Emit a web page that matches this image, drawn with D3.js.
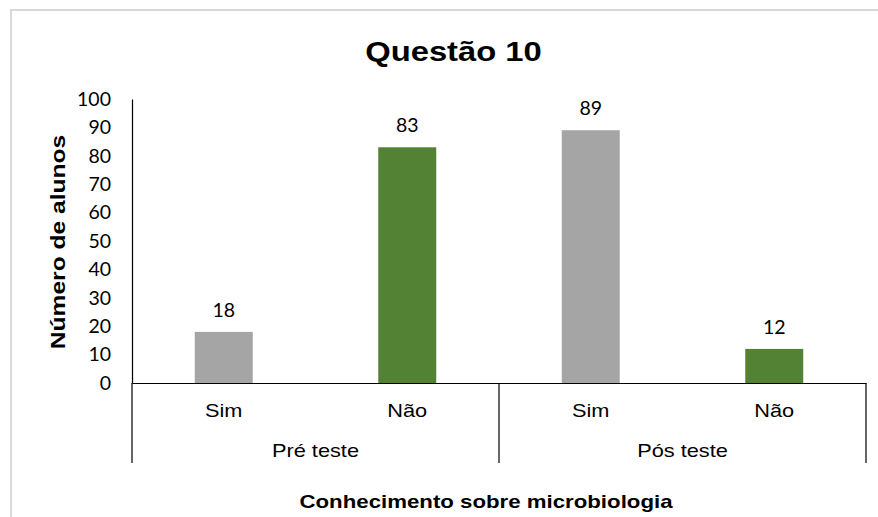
<!DOCTYPE html>
<html>
<head>
<meta charset="utf-8">
<script src="https://cdn.jsdelivr.net/npm/d3@7"></script>
<style>
  body { margin: 0; background: #fff; }
  text { fill: #000; }
</style>
</head>
<body>
<div id="chart"></div>
<script>
// data
var groups = ["Pré teste", "Pós teste"];
var answers = ["Sim", "Não"];
var values = [18, 83, 89, 12];
var yTicks = [0, 10, 20, 30, 40, 50, 60, 70, 80, 90, 100];
var barColors = ["#a5a5a5", "#548235"];

var width = 878, height = 517;
var margin = {top: 99, right: 12, bottom: 134, left: 132};
var wide = 1.17; // the reference text is drawn a bit wider than Arial

var sans = "'Liberation Sans', Arial, sans-serif";
var digits = "Lato, 'Open Sans', sans-serif";

// stretch text horizontally to match the wider look
function stretch(sel, k) {
  sel.each(function() {
    var w = this.getComputedTextLength();
    d3.select(this)
      .attr("textLength", w * k)
      .attr("lengthAdjust", "spacingAndGlyphs");
  });
}

var svg = d3.select("#chart")
  .append("svg")
    .attr("width", width)
    .attr("height", height);

// chart area border (only top and left are visible)
svg.append("path")
  .attr("d", "M11," + height + "V10H" + width)
  .attr("fill", "none")
  .attr("stroke", "#d9d9d9")
  .attr("stroke-width", 2);

// one row per group/answer pair
var rows = [];
groups.forEach(function(g, gi) {
  answers.forEach(function(a, ai) {
    rows.push({group: g, answer: a, key: g + "|" + a, value: values[gi * answers.length + ai], ai: ai});
  });
});

var x = d3.scaleBand()
  .domain(rows.map(function(d) { return d.key; }))
  .range([margin.left, width - margin.right])
  .padding(0);

var xg = d3.scaleBand()
  .domain(groups)
  .range([margin.left, width - margin.right])
  .padding(0);

var y = d3.scaleLinear()
  .domain([0, 100])
  .range([height - margin.bottom, margin.top]);

var barW = x.bandwidth() * 0.316;

// bars
svg.selectAll(".bar")
  .data(rows).enter().append("rect")
  .attr("class", "bar")
  .attr("x", function(d) { return x(d.key) + (x.bandwidth() - barW) / 2; })
  .attr("width", barW)
  .attr("y", function(d) { return y(d.value); })
  .attr("height", function(d) { return y(0) - y(d.value); })
  .attr("fill", function(d) { return barColors[d.ai]; });

// value labels
svg.selectAll(".val")
  .data(rows).enter().append("text")
  .attr("class", "val")
  .attr("x", function(d) { return x(d.key) + x.bandwidth() / 2; })
  .attr("y", function(d) { return y(d.value) - 15; })
  .attr("text-anchor", "middle")
  .style("font-family", digits)
  .style("font-size", "19.5px")
  .text(function(d) { return d.value; });

// y axis
var yAxis = svg.append("g")
  .attr("transform", "translate(" + margin.left + ",0)")
  .call(d3.axisLeft(y).tickValues(yTicks).tickSize(0).tickPadding(21));
yAxis.select(".domain").attr("stroke", "#000").attr("stroke-width", 1.2);
yAxis.selectAll("text")
  .style("font-family", digits)
  .style("font-size", "19.5px")
  .attr("fill", "#000");

// x axis: answers row
var xAxis = svg.append("g")
  .attr("transform", "translate(0," + y(0) + ")")
  .call(d3.axisBottom(x).tickSize(0)
    .tickFormat(function(k) { return k.split("|")[1]; }));
xAxis.select(".domain").attr("stroke", "#000").attr("stroke-width", 1.2);
xAxis.selectAll("text")
  .attr("dy", null)
  .attr("y", 34)
  .style("font-family", sans)
  .style("font-size", "18.6px")
  .attr("fill", "#000")
  .call(stretch, wide);

// group separators
var seps = [margin.left].concat(groups.map(function(g) { return xg(g) + xg.bandwidth(); }));
svg.selectAll(".sep")
  .data(seps).enter().append("line")
  .attr("class", "sep")
  .attr("x1", function(d) { return d; })
  .attr("x2", function(d) { return d; })
  .attr("y1", y(0))
  .attr("y2", y(0) + 80)
  .attr("stroke", "#000")
  .attr("stroke-width", 1.2);

// group labels
svg.selectAll(".grp")
  .data(groups).enter().append("text")
  .attr("class", "grp")
  .attr("x", function(g) { return xg(g) + xg.bandwidth() / 2; })
  .attr("y", y(0) + 74)
  .attr("text-anchor", "middle")
  .style("font-family", sans)
  .style("font-size", "18.6px")
  .text(function(g) { return g; })
  .call(stretch, wide);

// title
svg.append("text")
  .attr("x", 453.5)
  .attr("y", 61)
  .attr("text-anchor", "middle")
  .style("font-family", sans)
  .style("font-weight", "bold")
  .style("font-size", "28px")
  .text("Questão 10")
  .call(stretch, wide);

// y axis title
svg.append("text")
  .attr("transform", "translate(65,242) rotate(-90)")
  .attr("text-anchor", "middle")
  .style("font-family", sans)
  .style("font-weight", "bold")
  .style("font-size", "21px")
  .text("Número de alunos")
  .call(stretch, wide);

// x axis title
svg.append("text")
  .attr("x", 486)
  .attr("y", 508)
  .attr("text-anchor", "middle")
  .style("font-family", sans)
  .style("font-weight", "bold")
  .style("font-size", "19px")
  .text("Conhecimento sobre microbiologia")
  .call(stretch, wide);
</script>
</body>
</html>
